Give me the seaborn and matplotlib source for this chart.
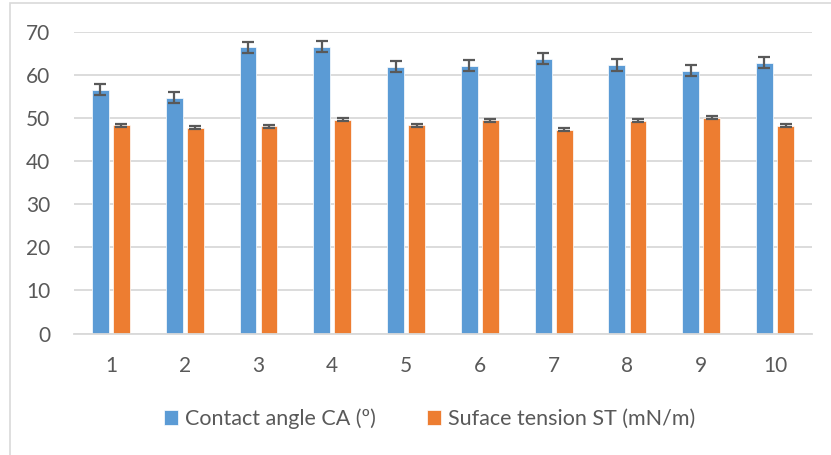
import pandas as pd
import seaborn as sns
import matplotlib.pyplot as plt
from matplotlib.patches import Rectangle

samples = ['1', '2', '3', '4', '5', '6', '7', '8', '9', '10']
contact_angle = [56.7, 54.8, 66.5, 66.7, 62.0, 62.2, 63.9, 62.4, 61.1, 62.9]
contact_angle_err = [1.3, 1.3, 1.2, 1.3, 1.3, 1.3, 1.3, 1.3, 1.2, 1.3]
surface_tension = [48.4, 47.8, 48.2, 49.7, 48.4, 49.6, 47.3, 49.4, 50.1, 48.3]
surface_tension_err = [0.35, 0.35, 0.35, 0.35, 0.35, 0.35, 0.35, 0.35, 0.35, 0.35]

ca_label = 'Contact angle CA (º)'
st_label = 'Suface tension ST (mN/m)'

df = pd.DataFrame({
    'sample': samples * 2,
    'value': contact_angle + surface_tension,
    'err': contact_angle_err + surface_tension_err,
    'series': [ca_label] * len(samples) + [st_label] * len(samples),
})

sns.set_theme(style='white')
plt.rcParams['font.family'] = ['Lato', 'DejaVu Sans']

fig = plt.figure(figsize=(8.31, 4.55), dpi=100)
ax = fig.add_axes([0.089, 0.267, 0.888, 0.662])

sns.barplot(data=df, x='sample', y='value', hue='series',
            palette=['#5B9BD5', '#ED7D31'], saturation=1, width=0.57, gap=0.2,
            errorbar=None, edgecolor='white', linewidth=0.5, ax=ax)

# error bars on top of each bar
bars = [p for p in ax.patches if p.get_height() > 0]
for p in bars:
    xc = p.get_x() + p.get_width() / 2
    h = p.get_height()
    row = df.loc[(df['value'] - h).abs() < 1e-6]
    e = row['err'].iloc[0]
    ax.errorbar(xc, h, yerr=e, fmt='none', ecolor='#595959',
                elinewidth=1.6, capsize=4.5, capthick=1.6, zorder=5)

ax.set_xlim(-0.5, len(samples) - 0.5)
ax.set_ylim(0, 70)
ax.set_yticks(range(0, 71, 10))
ax.yaxis.grid(True, color='#d9d9d9', linewidth=1.3)
ax.set_axisbelow(True)
for s in ['top', 'right', 'left']:
    ax.spines[s].set_visible(False)
ax.spines['bottom'].set_color('#d9d9d9')
ax.spines['bottom'].set_linewidth(1.3)
ax.tick_params(axis='both', length=0, labelsize=15, colors='#595959')
ax.tick_params(axis='y', pad=17)
ax.tick_params(axis='x', pad=16)
ax.set_xlabel('')
ax.set_ylabel('')

ax.legend(loc='center', bbox_to_anchor=(0.517, 0.08), bbox_transform=fig.transFigure,
          ncol=2, frameon=False, fontsize=15.5, handlelength=0.65, handleheight=0.65,
          handletextpad=0.3, columnspacing=2.4, labelcolor='#595959')

fig.patches.append(Rectangle((10 / 831, -0.1), 1.2, 1.1 - 3 / 455,
                             transform=fig.transFigure, fill=False,
                             edgecolor='#d9d9d9', linewidth=1.2))

fig.savefig('out.png', dpi=100)
